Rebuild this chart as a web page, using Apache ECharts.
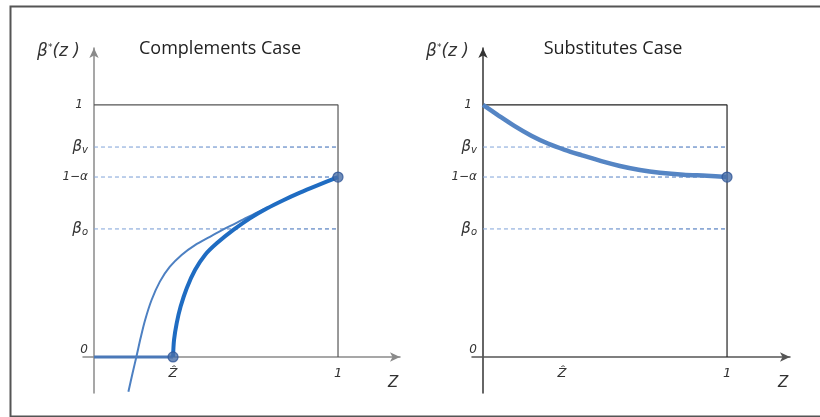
<!DOCTYPE html>
<html>
<head>
<meta charset="utf-8">
<script src="https://cdn.jsdelivr.net/npm/echarts@6/dist/echarts.min.js"></script>
<style>
html, body { margin: 0; padding: 0; background: #fff; }
#chart { width: 820px; height: 417px; }
</style>
</head>
<body>
<div id="chart"></div>
<script>
// levels marked on the vertical axes
var levelLabels = ['0', 'β_o', '1−α', 'β_v', '1'];
var levelValues = [0, 0.508, 0.714, 0.833, 1];
var dashedLevels = [0.508, 0.714, 0.833];
var zHat = 0.324;
var xTickValues = [zHat, 1];
var xTickLabels = ['Ẑ', '1'];

// complements case
var flatPart = [[0, 0], [zHat, 0]];
var thickCurve = [[0.324, 0], [0.328, 0.067], [0.339, 0.134], [0.355, 0.200], [0.380, 0.273],
    [0.414, 0.345], [0.455, 0.405], [0.503, 0.451], [0.571, 0.504], [0.639, 0.550], [0.708, 0.589],
    [0.776, 0.622], [0.844, 0.652], [0.913, 0.680], [1, 0.714]];
var thinCurve = [[0.141, -0.138], [0.158, -0.065], [0.175, 0.006], [0.191, 0.075], [0.209, 0.145],
    [0.236, 0.226], [0.270, 0.299], [0.311, 0.358], [0.359, 0.405], [0.414, 0.444], [0.475, 0.477],
    [0.540, 0.511], [0.610, 0.545], [0.680, 0.579], [0.776, 0.621], [0.844, 0.652], [0.913, 0.680], [1, 0.714]];
var compDots = [[zHat, 0], [1, 0.714]];

// substitutes case
var subsCurve = [[0, 1], [0.061, 0.960], [0.130, 0.916], [0.198, 0.878], [0.266, 0.847],
    [0.335, 0.822], [0.403, 0.801], [0.485, 0.777], [0.561, 0.758], [0.643, 0.742],
    [0.725, 0.731], [0.821, 0.723], [0.917, 0.719], [1, 0.714]];
var subsDots = [[1, 0.714]];

var box = [[0, 1], [1, 1], [1, 0]];

var myChart = echarts.init(document.getElementById('chart'));

function levelLabel(v) {
    var s = levelLabels[levelValues.indexOf(v)];
    if (s.indexOf('_') > 0) {
        var p = s.split('_');
        return '{g|' + p[0] + '}{s|' + p[1] + '}';
    }
    if (s === '0') return '{z|0}';
    if (s === '1') return '{o|1}';
    return '{t|' + s + '}';
}

var tickRich = {
    t: { fontFamily: 'DejaVu Sans', fontStyle: 'italic', fontSize: 12, color: '#333' },
    o: { fontFamily: 'DejaVu Sans', fontStyle: 'italic', fontSize: 12, color: '#333', padding: [0, 5, 0, 0] },
    z: { fontFamily: 'DejaVu Sans', fontStyle: 'italic', fontSize: 12, color: '#333', padding: [0, 0, 14, 0] },
    g: { fontFamily: 'DejaVu Sans', fontStyle: 'italic', fontSize: 15, color: '#333' },
    s: { fontFamily: 'DejaVu Sans', fontStyle: 'italic', fontSize: 10, color: '#333', verticalAlign: 'bottom', padding: [6, 0, 0, 0] }
};

function makeX(idx, max, color) {
    return {
        type: 'value', gridIndex: idx, min: -0.045, max: max,
        name: 'Z',
        nameLocation: 'end',
        nameGap: -12,
        nameTextStyle: { fontFamily: 'DejaVu Sans', fontStyle: 'italic', fontSize: 15, color: '#333', verticalAlign: 'top', padding: [19, 0, 0, 0] },
        axisLine: { onZero: true, symbol: ['none', 'arrow'], symbolSize: [7, 10], lineStyle: { color: color, width: 1.5 } },
        axisTick: { show: false },
        splitLine: { show: false },
        axisLabel: {
            customValues: xTickValues,
            margin: -26,
            fontFamily: 'DejaVu Sans', fontStyle: 'italic', fontSize: 13, color: '#333',
            formatter: function (v) { return xTickLabels[xTickValues.indexOf(v)]; }
        }
    };
}

function makeY(idx, color) {
    return {
        type: 'value', gridIndex: idx, min: -0.143, max: 1.226,
        name: '{g|β}{s|*}{g|(z )}',
        nameLocation: 'end',
        nameGap: -12,
        nameTextStyle: {
            align: 'right',
            padding: [0, 14, 0, 0],
            rich: {
                g: { fontFamily: 'DejaVu Sans', fontStyle: 'italic', fontSize: 17, color: '#333' },
                s: { fontFamily: 'DejaVu Sans', fontSize: 9, color: '#333', verticalAlign: 'top', padding: [0, 0, 8, 0] }
            }
        },
        axisLine: { onZero: true, symbol: ['none', 'arrow'], symbolSize: [7, 10], lineStyle: { color: color, width: 1.5 } },
        axisTick: { show: false },
        splitLine: { show: false },
        axisLabel: {
            customValues: levelValues,
            margin: -5,
            formatter: levelLabel,
            rich: tickRich
        }
    };
}

var dashColor = new echarts.graphic.LinearGradient(0, 0, 1, 0, [
    { offset: 0, color: '#86a8dc' },
    { offset: 1, color: '#2a5fb0' }
]);

function line(idx, data, color, width, type, z) {
    return {
        type: 'line', xAxisIndex: idx, yAxisIndex: idx, data: data,
        symbol: 'none', smooth: false, z: z || 2, silent: true,
        lineStyle: { color: color, width: width, type: type || 'solid' }
    };
}

function smoothLine(idx, data, color, width, z) {
    var s = line(idx, data, color, width, 'solid', z);
    s.smooth = 0.3;
    return s;
}

function dots(idx, data) {
    return {
        type: 'scatter', xAxisIndex: idx, yAxisIndex: idx, data: data,
        symbolSize: 10, z: 6, silent: true,
        itemStyle: { color: '#4a6fa8', borderColor: '#2f5597', borderWidth: 1.2 }
    };
}

var series = [];
[0, 1].forEach(function (idx) {
    dashedLevels.forEach(function (v) {
        series.push(line(idx, [[0, v], [1, v]], dashColor, 1, [4, 3], 1));
    });
    series.push(line(idx, box, idx === 0 ? '#555' : '#222', 1.2, 'solid', 1));
});
series.push(line(0, flatPart, '#4a78b8', 3, 'solid', 3));
series.push(smoothLine(0, thinCurve, '#4d80c2', 2, 3));
series.push(smoothLine(0, thickCurve, '#1f6cc2', 4, 4));
series.push(dots(0, compDots));
series.push(smoothLine(1, subsCurve, '#5585c4', 4.5, 4));
series.push(dots(1, subsDots));

var option = {
    animation: false,
    backgroundColor: '#fff',
    title: [
        { text: 'Complements Case', left: 215, top: 35, textAlign: 'center',
          textStyle: { fontFamily: 'Open Sans', fontWeight: 'normal', fontSize: 18, color: '#222' } },
        { text: 'Substitutes Case', left: 608, top: 35, textAlign: 'center',
          textStyle: { fontFamily: 'Open Sans', fontWeight: 'normal', fontSize: 18, color: '#222' } }
    ],
    graphic: [{
        type: 'rect', left: 8, top: 4, silent: true,
        shape: { width: 830, height: 410 },
        style: { fill: 'none', stroke: '#555', lineWidth: 2 }
    }],
    grid: [
        { left: 83, top: 48, width: 317, height: 345 },
        { left: 472, top: 48, width: 318, height: 345 }
    ],
    xAxis: [makeX(0, 1.254, '#8a8a8a'), makeX(1, 1.258, '#555')],
    yAxis: [makeY(0, '#8a8a8a'), makeY(1, '#333')],
    series: series
};

myChart.setOption(option);
</script>
</body>
</html>
